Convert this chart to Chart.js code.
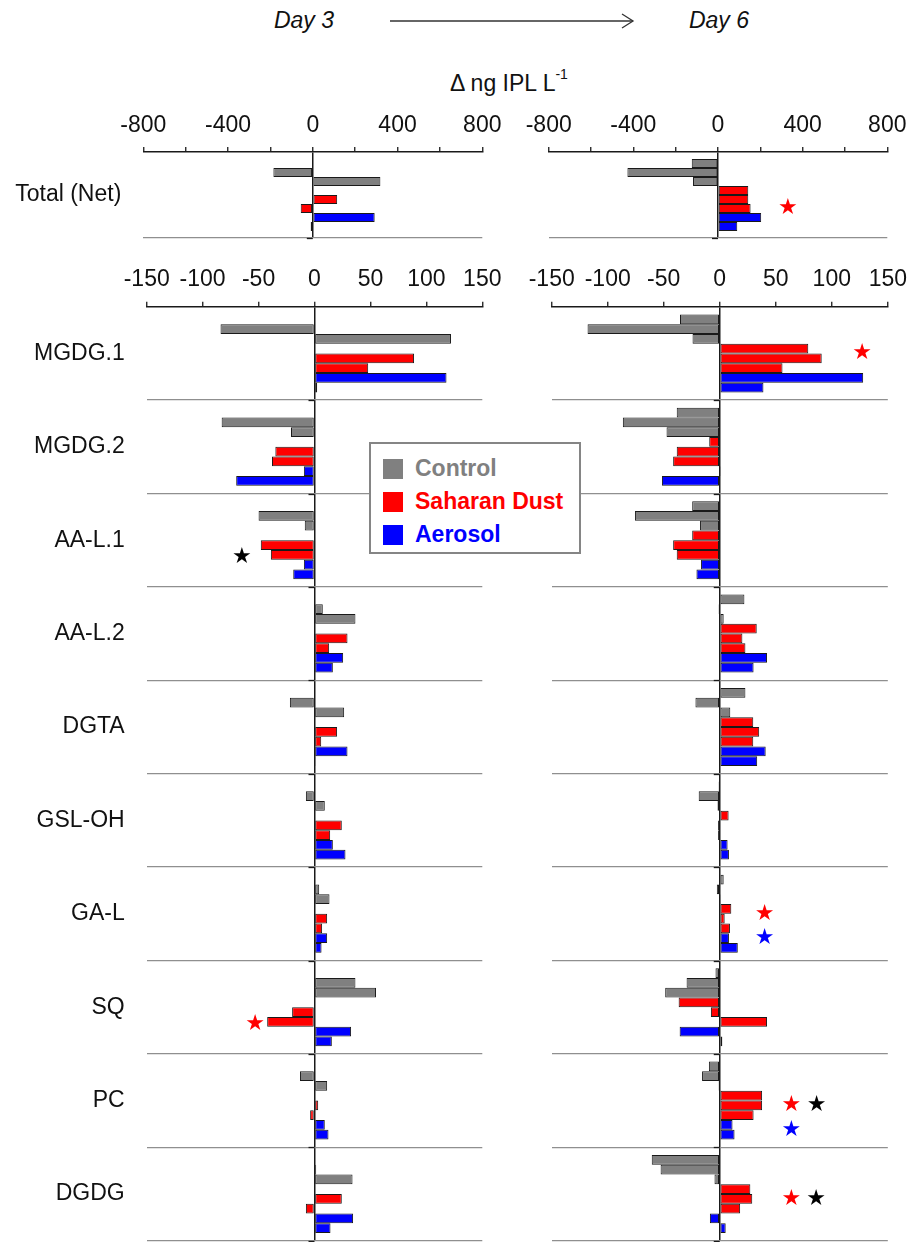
<!DOCTYPE html>
<html>
<head>
<meta charset="utf-8">
<script src="https://cdn.jsdelivr.net/npm/chart.js@4.4.1/dist/chart.umd.min.js"></script>
<style>
  body { margin: 0; background: #fff; font-family: "Liberation Sans", Arial, sans-serif; color: #111; }
  #page { position: relative; width: 915px; height: 1242px; overflow: hidden; }
  .pane { position: absolute; }
  .day { position: absolute; top: 6px; width: 100px; text-align: center; font-style: italic; font-size: 23px; line-height: 28px; }
  #unit { position: absolute; left: 409px; top: 62px; width: 200px; text-align: center; font-size: 23px; line-height: 30px; }
  #unit sup { font-size: 14px; position: relative; top: -3px; }
  #legend { position: absolute; left: 369px; top: 442px; width: 212px; height: 112px; box-sizing: border-box;
            border: 2px solid #858585; background: #fff; z-index: 5; }
  #legend .row { position: absolute; left: 12px; height: 28px; line-height: 28px; font-weight: bold; font-size: 23px; white-space: nowrap; }
  #legend .sw { display: inline-block; width: 20px; height: 20px; vertical-align: -3px; margin-right: 12px; }
</style>
</head>
<body>
<div id="page">
  <div class="day" style="left:254px">Day 3</div>
  <svg style="position:absolute;left:380px;top:8px" width="265" height="26">
    <line x1="10" y1="13" x2="253" y2="13" stroke="#333" stroke-width="1.3"/>
    <polyline points="242,6 253,13 242,20" fill="none" stroke="#333" stroke-width="1.3"/>
  </svg>
  <div class="day" style="left:669px">Day 6</div>
  <div id="unit">&Delta; ng IPL L<sup>-1</sup></div>

  <div class="pane" style="left:0;top:100px"><canvas id="tot3" width="510" height="153"></canvas></div>
  <div class="pane" style="left:500px;top:100px"><canvas id="tot6" width="415" height="140"></canvas></div>
  <div class="pane" style="left:0;top:250px"><canvas id="lip3" width="510" height="1006"></canvas></div>
  <div class="pane" style="left:500px;top:250px"><canvas id="lip6" width="415" height="992"></canvas></div>

  <div id="legend">
    <div class="row" style="top:10px;color:#808080"><span class="sw" style="background:#808080"></span>Control</div>
    <div class="row" style="top:43px;color:#ff0000"><span class="sw" style="background:#ff0000"></span>Saharan Dust</div>
    <div class="row" style="top:76px;color:#0000ff"><span class="sw" style="background:#0000ff"></span>Aerosol</div>
  </div>
</div>

<script>
const groups = ['MGDG.1', 'MGDG.2', 'AA-L.1', 'AA-L.2', 'DGTA', 'GSL-OH', 'GA-L', 'SQ', 'PC', 'DGDG'];

// Total (Net), ng IPL/L, one value per replicate (null = no bar in the figure)
const day3TotalControl = [null, -186, 319];
const day3TotalDust = [null, 115, -57];
const day3TotalAerosol = [292, -10];
const day6TotalControl = [-124, -428, -118];
const day6TotalDust = [143, 143, 154];
const day6TotalAerosol = [204, 91];

// lipid classes, one row per replicate, one value per group
const day3Control = [
  [null, null, null, null, null, null, null, null, null, null],
  [-84, -83, -50, 7.4, -22, -7.7, 4.2, 36.6, -13, 1.5],
  [122, -21, -8.7, 36.6, 26.5, 9.2, 13.4, 55, 11.3, 34]
];
const day3Dust = [
  [null, null, null, null, null, null, null, null, null, null],
  [89, -35, -48, 29.5, 20.2, 24.4, 11.3, -20, 3.3, 24.4],
  [48, -38, -39, 13.1, 6, 14, 6.8, -42.3, -3.9, -7.7]
];
const day3Aerosol = [
  [118, -9.5, -9.5, 25.6, 29.5, 16.4, 11.3, 32.7, 9.2, 34.5],
  [2.4, -70, -19, 16.4, 1, 27.7, 6.3, 15.5, 12.5, 14.3]
];
const day6Control = [
  [-35.5, -38.4, -24.6, 22, 22.9, -1, 3.5, -3.8, -9.7, -60.7],
  [-118, -86.5, -75.7, -1, -21.7, -18.8, -2.6, -29.6, -15.8, -52.8],
  [-24.3, -47.5, -17.6, 3.5, 9.4, -2, 1, -48.7, -1, -4.7]
];
const day6Dust = [
  [79, -9.4, -24.6, 33, 29.9, 7.9, 10.3, -36.7, 37.8, 27.3],
  [91, -38.4, -41.6, 20.2, 35.2, -1.5, 4.4, -7.9, 37.8, 29],
  [56, -41.6, -38.4, 22.9, 29.9, -1.5, 9.1, 42.2, 30.2, 18.2]
];
const day6Aerosol = [
  [128, 1, -16.7, 42.2, 41, 7, 8.2, -35.8, 11.4, -8.8],
  [39, -51.6, -20.8, 30.2, 33.4, 8.2, 16.1, 2.3, 13.2, 5.3]
];

// significance stars: group index, x value, bar row they sit beside, which test
const day6TotalStars = [{ group: 0, value: 330, row: 5, mark: 'dust' }];
const day3Stars = [
  { group: 2, value: -65, row: 5.3, mark: 'combined' },
  { group: 7, value: -53, row: 5.3, mark: 'dust' }
];
const day6Stars = [
  { group: 0, value: 127, row: 3.5, mark: 'dust' },
  { group: 6, value: 40, row: 3.5, mark: 'dust' },
  { group: 6, value: 40, row: 6, mark: 'aerosol' },
  { group: 8, value: 64, row: 4, mark: 'dust' },
  { group: 8, value: 86.5, row: 4, mark: 'combined' },
  { group: 8, value: 64, row: 6.5, mark: 'aerosol' },
  { group: 9, value: 64, row: 4, mark: 'dust' },
  { group: 9, value: 86, row: 4, mark: 'combined' }
];

const FONT = '"Liberation Sans", Arial, sans-serif';
const COLORS = { control: '#808080', dust: '#ff0000', aerosol: '#0000ff', combined: '#000000' };
const CAT_PCT = 0.835;
const SLOTS = 8;

function makeDatasets(control, dust, aerosol) {
  const out = [];
  [[control, COLORS.control], [dust, COLORS.dust], [aerosol, COLORS.aerosol]].forEach(([rows, color]) => {
    rows.forEach(row => out.push({
      data: row,
      backgroundColor: color,
      borderColor: '#1a1a1a',
      borderWidth: 1,
      borderSkipped: false,
      categoryPercentage: CAT_PCT,
      barPercentage: 1
    }));
  });
  return out;
}

const overlay = {
  id: 'overlay',
  afterDatasetsDraw(chart, args, opts) {
    const { ctx, scales: { x, y } } = chart;
    const n = chart.data.labels.length;
    const band = (y.bottom - y.top) / n;
    const slotH = band * CAT_PCT / SLOTS;
    const x0 = x.getPixelForValue(0);
    ctx.save();
    // little axis ticks on the zero line at every separator
    ctx.strokeStyle = '#1a1a1a';
    ctx.lineWidth = 1.3;
    for (let i = 1; i <= n; i++) {
      const yy = Math.round(y.top + i * band) + 0.5;
      ctx.beginPath();
      ctx.moveTo(x0 - 6, yy);
      ctx.lineTo(x0, yy);
      ctx.stroke();
    }
    ctx.font = '22px "DejaVu Sans"';
    ctx.textAlign = 'center';
    ctx.textBaseline = 'middle';
    (opts.stars || []).forEach(s => {
      const cy = y.getPixelForValue(s.group) + (s.row - (SLOTS - 1) / 2) * slotH;
      ctx.fillStyle = COLORS[s.mark];
      ctx.fillText('\u2605', x.getPixelForValue(s.value), cy);
    });
    ctx.restore();
  }
};

function xAxis(min, max, step, labelEvery) {
  return {
    type: 'linear', position: 'top', min: min, max: max,
    ticks: {
      stepSize: step, autoSkip: false, maxRotation: 0, padding: 8, color: '#111',
      font: { family: FONT, size: 23 },
      callback: v => (v % labelEvery === 0 ? String(v) : '')
    },
    grid: {
      drawOnChartArea: true,
      color: c => (c.tick && c.tick.value === 0 ? '#1a1a1a' : 'rgba(0,0,0,0)'),
      lineWidth: 1.5, tickLength: 5, tickColor: '#1a1a1a', tickWidth: 1.3
    },
    border: { display: true, color: '#1a1a1a', width: 1.5 },
    afterFit: s => { s.height = 50; }
  };
}

function yAxis(showLabels, width) {
  return {
    type: 'category', position: 'left', offset: true,
    grid: {
      offset: true, drawTicks: true, tickLength: 22, tickColor: 'rgba(0,0,0,0)', lineWidth: 1.3,
      color: c => (c.index === 0 ? 'rgba(0,0,0,0)' : '#8f8f8f')
    },
    border: { display: false },
    ticks: { display: showLabels, padding: 0, color: '#111', font: { family: FONT, size: 23 } },
    afterFit: s => { s.width = width; }
  };
}

function makeChart(id, labels, datasets, x, y, padding, stars) {
  return new Chart(document.getElementById(id), {
    type: 'bar',
    data: { labels: labels, datasets: datasets },
    options: {
      indexAxis: 'y',
      responsive: false,
      animation: false,
      devicePixelRatio: 1,
      layout: { padding: padding },
      scales: { x: x, y: y },
      plugins: { legend: { display: false }, tooltip: { enabled: false }, overlay: { stars: stars } }
    },
    plugins: [overlay]
  });
}

const one = v => [v];

makeChart('tot3', ['Total (Net)'],
  makeDatasets(day3TotalControl.map(one), day3TotalDust.map(one), day3TotalAerosol.map(one)),
  xAxis(-800, 800, 200, 400), yAxis(true, 143.3),
  { top: 2, bottom: 15, left: 0, right: 27.7 }, []);

makeChart('tot6', ['Total (Net)'],
  makeDatasets(day6TotalControl.map(one), day6TotalDust.map(one), day6TotalAerosol.map(one)),
  xAxis(-800, 800, 200, 400), yAxis(false, 48.7),
  { top: 2, bottom: 2, left: 0, right: 27.7 }, day6TotalStars);

makeChart('lip3', groups,
  makeDatasets(day3Control, day3Dust, day3Aerosol),
  xAxis(-150, 150, 50, 50), yAxis(true, 146.7),
  { top: 6.7, bottom: 15.3, left: 0, right: 27.7 }, day3Stars);

makeChart('lip6', groups,
  makeDatasets(day6Control, day6Dust, day6Aerosol),
  xAxis(-150, 150, 50, 50), yAxis(false, 51.7),
  { top: 6.7, bottom: 1.3, left: 0, right: 22.3 }, day6Stars);
</script>
</body>
</html>
